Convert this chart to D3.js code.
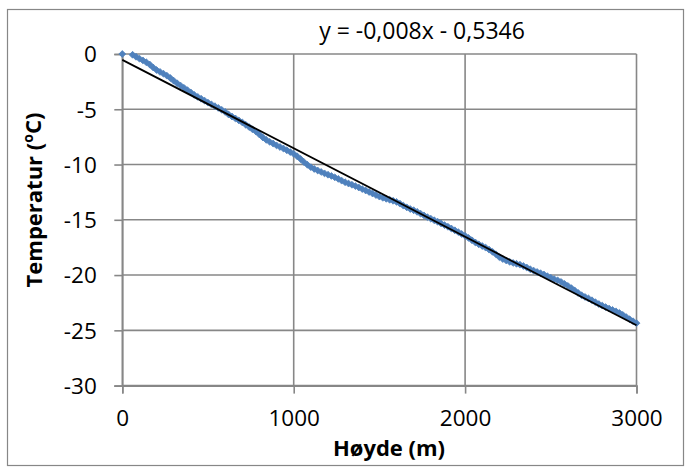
<!DOCTYPE html>
<html>
<head>
<meta charset="utf-8">
<script src="https://cdn.jsdelivr.net/npm/d3@7"></script>
<style>
  html, body { margin: 0; padding: 0; background: #fff; }
  svg { display: block; }
  text { font-family: "Open Sans", "Noto Sans", sans-serif; fill: #000; }
</style>
</head>
<body>
<svg id="chart" width="690" height="473"></svg>
<script>
// ---- data ----
const heights = [0, 60, 80, 100, 120, 140, 160, 180, 200, 220, 240, 260, 280, 300, 320, 340, 360, 380, 400,
  420, 440, 460, 480, 500, 520, 540, 560, 580, 600, 620, 640, 660, 680, 700, 720, 740, 760, 780, 800,
  820, 840, 860, 880, 900, 920, 940, 960, 980, 1000, 1020, 1040, 1060, 1080, 1100, 1120, 1140, 1160,
  1180, 1200, 1220, 1240, 1260, 1280, 1300, 1320, 1340, 1360, 1380, 1400, 1420, 1440, 1460, 1480,
  1500, 1520, 1540, 1560, 1580, 1600, 1620, 1640, 1660, 1680, 1700, 1720, 1740, 1760, 1780, 1800,
  1820, 1840, 1860, 1880, 1900, 1920, 1940, 1960, 1980, 2000, 2020, 2040, 2060, 2080, 2100, 2120,
  2140, 2160, 2180, 2200, 2220, 2240, 2260, 2280, 2300, 2320, 2340, 2360, 2380, 2400, 2420, 2440,
  2460, 2480, 2500, 2520, 2540, 2560, 2580, 2600, 2620, 2640, 2660, 2680, 2700, 2720, 2740, 2760,
  2780, 2800, 2820, 2840, 2860, 2880, 2900, 2920, 2940, 2960, 2980, 3000];
const temperatures = [0, -0.07, -0.25, -0.42, -0.58, -0.75, -0.95, -1.22, -1.45, -1.62, -1.78, -1.96, -2.17,
  -2.42, -2.65, -2.86, -3.06, -3.27, -3.48, -3.70, -3.88, -4.05, -4.22, -4.40, -4.56, -4.72, -4.88,
  -5.05, -5.24, -5.47, -5.66, -5.83, -6.01, -6.19, -6.40, -6.61, -6.82, -7.02, -7.28, -7.55, -7.77,
  -7.95, -8.10, -8.27, -8.41, -8.55, -8.71, -8.87, -9.03, -9.25, -9.50, -9.78, -10.02, -10.24, -10.40,
  -10.54, -10.67, -10.80, -10.92, -11.03, -11.16, -11.30, -11.46, -11.60, -11.72, -11.83, -11.95,
  -12.08, -12.22, -12.35, -12.48, -12.62, -12.76, -12.90, -13.01, -13.10, -13.19, -13.28, -13.38,
  -13.54, -13.72, -13.88, -14.02, -14.14, -14.28, -14.44, -14.60, -14.76, -14.90, -15.04, -15.18,
  -15.33, -15.48, -15.63, -15.79, -15.95, -16.11, -16.28, -16.45, -16.64, -16.85, -17.05, -17.22,
  -17.37, -17.52, -17.70, -17.90, -18.12, -18.38, -18.55, -18.68, -18.80, -18.90, -18.98, -19.06,
  -19.18, -19.32, -19.47, -19.60, -19.72, -19.83, -19.95, -20.10, -20.24, -20.37, -20.48, -20.62,
  -20.80, -20.98, -21.18, -21.40, -21.62, -21.83, -21.98, -22.12, -22.28, -22.45, -22.62, -22.76,
  -22.90, -23.03, -23.15, -23.28, -23.42, -23.60, -23.80, -24.00, -24.18, -24.35];
const trendSlope = -0.008;
const trendIntercept = -0.5346;
const trendLabel = "y = -0,008x - 0,5346";
const xTicks = [0, 1000, 2000, 3000];
const yTicks = [0, -5, -10, -15, -20, -25, -30];
const xTitle = "Høyde (m)";
const yTitle = "Temperatur (";

// ---- layout ----
const svg = d3.select("#chart");
const x = d3.scaleLinear().domain([0, 3000]).range([122.3, 636.5]);
const y = d3.scaleLinear().domain([-30, 0]).range([385.6, 54]);
const grid = "#878787";

// outer border
svg.append("rect").attr("x", 7.5).attr("y", 9.5).attr("width", 676).attr("height", 456)
  .attr("fill", "#fff").attr("stroke", "#878787").attr("stroke-width", 1.2);

// gridlines
svg.append("g").selectAll("line").data(yTicks).join("line")
  .attr("x1", x(0)).attr("x2", x(3000)).attr("y1", d => y(d)).attr("y2", d => y(d))
  .attr("stroke", grid).attr("stroke-width", 1.6);
svg.append("g").selectAll("line").data(xTicks).join("line")
  .attr("x1", d => x(d)).attr("x2", d => x(d)).attr("y1", y(0)).attr("y2", y(-30))
  .attr("stroke", grid).attr("stroke-width", 1.6);

// axes
const yAxis = d3.axisLeft(y).tickValues(yTicks).tickSize(8).tickPadding(10).tickFormat(d => d3.format("d")(d).replace("−", "-"));
const gy = svg.append("g").attr("transform", `translate(${x(0)},0)`).call(yAxis);
const xAxis = d3.axisBottom(x).tickValues(xTicks).tickSize(8).tickPadding(10).tickFormat(d3.format("d"));
const gx = svg.append("g").attr("transform", `translate(0,${y(-30)})`).call(xAxis);
[gx, gy].forEach(g => {
  g.select(".domain").attr("stroke", grid).attr("stroke-width", 1.6);
  g.selectAll(".tick line").attr("stroke", grid).attr("stroke-width", 1.6);
  g.selectAll(".tick text").attr("font-family", "Open Sans").attr("font-size", 22.5).attr("fill", "#000");
});
gy.selectAll(".tick text").attr("x", -25.5).attr("dy", "0.35em");
gx.selectAll(".tick text").attr("dy", "0.7em").attr("y", 25);

// data points (diamonds)
const pts = heights.map((h, i) => [h, temperatures[i]]);
const diamond = d3.symbol().type(d3.symbolDiamond2).size(30);
svg.append("g").selectAll("path").data(pts).join("path")
  .attr("d", diamond)
  .attr("transform", d => `translate(${x(d[0])},${y(d[1])})`)
  .attr("fill", "#4F81BD").attr("stroke", "#4F81BD").attr("stroke-width", 0.8);

// trendline
svg.append("line")
  .attr("x1", x(0)).attr("y1", y(trendIntercept))
  .attr("x2", x(3000)).attr("y2", y(trendSlope * 3000 + trendIntercept))
  .attr("stroke", "#000").attr("stroke-width", 1.8);

// trend label
svg.append("text").attr("x", 422).attr("y", 31).attr("dy", "0.35em")
  .attr("text-anchor", "middle").attr("font-size", 23).text(trendLabel);

// axis titles
svg.append("text").attr("x", 389).attr("y", 448).attr("dy", "0.35em")
  .attr("text-anchor", "middle").attr("font-size", 22).attr("font-weight", "bold").text(xTitle);

const yt = svg.append("text").attr("transform", "translate(34,200) rotate(-90)").attr("dy", "0.35em")
  .attr("text-anchor", "middle").attr("font-size", 22).attr("font-weight", "bold");
yt.append("tspan").text(yTitle);
yt.append("tspan").attr("font-size", 14).attr("dy", "-0.6em").text("o");
yt.append("tspan").attr("dy", "0.35em").text("C)");
</script>
</body>
</html>
